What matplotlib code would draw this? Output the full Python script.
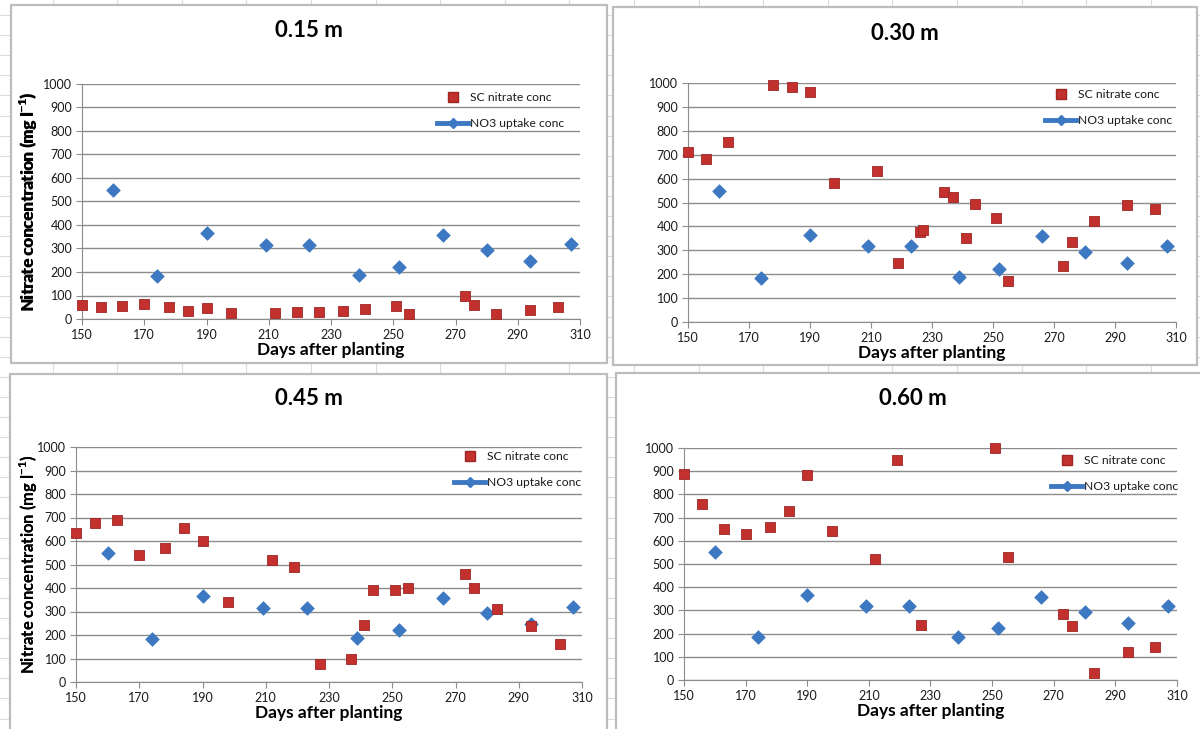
import matplotlib
matplotlib.use("Agg")
import matplotlib.pyplot as plt
from matplotlib.lines import Line2D
from matplotlib.patches import Rectangle

plt.rcParams["font.family"] = ["Lato", "DejaVu Sans"]
plt.rcParams["mathtext.fontset"] = "custom"
plt.rcParams["mathtext.rm"] = "Lato"
plt.rcParams["mathtext.bf"] = "Lato:bold"

# NO3 uptake concentration (same series on every depth)
uptake_days = [160, 174, 190, 209, 223, 239, 252, 266, 280, 294, 307]
uptake_conc = [550, 184, 365, 317, 317, 187, 223, 358, 292, 246, 318]

# soil-core nitrate concentration at each depth
sc_days_015 = [150, 156, 163, 170, 178, 184, 190, 198, 212, 219, 226, 234, 241,
               251, 255, 273, 276, 283, 294, 303]
sc_conc_015 = [60, 52, 55, 64, 51, 34, 47, 26, 26, 30, 30, 34, 43,
               55, 21, 98, 60, 21, 38, 51]

sc_days_030 = [150, 156, 163, 178, 184, 190, 198, 212, 219, 226, 227, 234, 237,
               241, 244, 251, 255, 273, 276, 283, 294, 303]
sc_conc_030 = [711, 682, 752, 993, 985, 964, 580, 630, 248, 375, 385, 544, 522,
               353, 492, 434, 173, 236, 333, 423, 490, 471]

sc_days_045 = [150, 156, 163, 170, 178, 184, 190, 198, 212, 219, 227, 237, 241,
               244, 251, 255, 273, 276, 283, 294, 303]
sc_conc_045 = [633, 678, 690, 542, 572, 655, 601, 340, 521, 491, 77, 98, 243,
               391, 391, 400, 460, 400, 309, 238, 162]

sc_days_060 = [150, 156, 163, 170, 178, 184, 190, 198, 212, 219, 227, 251, 255,
               273, 276, 283, 294, 303]
sc_conc_060 = [890, 759, 653, 631, 660, 729, 882, 643, 521, 950, 237, 1000, 531,
               284, 232, 29, 119, 141]

depth_titles = ["0.15 m", "0.30 m", "0.45 m", "0.60 m"]
sc_days = [sc_days_015, sc_days_030, sc_days_045, sc_days_060]
sc_conc = [sc_conc_015, sc_conc_030, sc_conc_045, sc_conc_060]

W, H = 1200, 729
RED = "#C3312E"
RED_EDGE = "#9E2624"
BLUE = "#3D78C2"
GRID = "#8C8C8C"

# chart frames (left, top, right, bottom) and plot areas (x150, x310, y1000, y0) in pixels
frames = [(11, 5, 607, 363), (613, 7, 1197, 365), (10, 374, 607, 740), (616, 373, 1210, 740)]
plots = [(82, 580, 84, 319), (688, 1176, 83, 322), (76, 582, 447, 682), (684, 1177, 448, 680)]
title_y = [30, 33, 398, 398]
# legend anchor (left of handle, top of first row) in pixels
legend_xy = [(437, 92), (1045, 89), (454, 451), (1051, 455)]

fig = plt.figure(figsize=(W / 100, H / 100), dpi=100)

# worksheet background with cell grid
bg = fig.add_axes([0, 0, 1, 1])
bg.set_xlim(0, W)
bg.set_ylim(H, 0)
bg.axis("off")
x = 52.5
while x < W:
    bg.axvline(x, color="#D9DBDD", lw=0.8, zorder=0)
    x += 64.6
y = 15
while y < H:
    bg.axhline(y, color="#D9DBDD", lw=0.8, zorder=0)
    y += 20.1

for (l, t, r, b) in frames:
    bg.add_patch(Rectangle((l, t), r - l, b - t, facecolor="white",
                           edgecolor="#BDBDBD", lw=1.6, zorder=1))

for i in range(4):
    fl, ft, fr, fb = frames[i]
    x0, x1, y1, y0 = plots[i]
    pw, ph = x1 - x0, y0 - y1
    bg.text((fl + fr) / 2, title_y[i], depth_titles[i], ha="center", va="center",
            fontsize=16, fontweight="bold", color="black", zorder=3)

    ax = fig.add_axes([x0 / W, 1 - y0 / H, pw / W, ph / H])
    ax.set_xlim(150, 310)
    ax.set_ylim(0, 1000)
    ax.set_xticks(range(150, 311, 20))
    ax.set_yticks(range(0, 1001, 100))
    ax.grid(axis="y", color=GRID, lw=1)
    ax.set_axisbelow(True)
    for side in ("top", "right"):
        ax.spines[side].set_visible(False)
    for side in ("left", "bottom"):
        ax.spines[side].set_color(GRID)
    ax.tick_params(direction="out", length=4, color=GRID, labelsize=9,
                   labelcolor="#1A1A1A", pad=3)
    ax.patch.set_alpha(0)

    ax.scatter(uptake_days, uptake_conc, marker="D", s=48, color=BLUE,
               edgecolors=BLUE, linewidths=0.5, zorder=3, clip_on=False)
    ax.scatter(sc_days[i], sc_conc[i], marker="s", s=52, color=RED,
               edgecolors=RED_EDGE, linewidths=0.6, zorder=4, clip_on=False)

    ax.set_ylabel(r"Nitrate concentration (mg l$^{\mathbf{-1}}$)", fontsize=12,
                  fontweight="bold")
    ax.yaxis.set_label_coords(-(x0 - 40) / pw, 0.5)
    ax.set_xlabel("Days after planting", fontsize=12.5, fontweight="bold")
    ax.xaxis.set_label_coords(0.5, -23 / ph)

    handles = [
        Line2D([], [], marker="s", ls="none", markersize=7, color=RED,
               markeredgecolor=RED_EDGE),
        Line2D([], [], marker="D", ls="-", lw=3.5, markersize=5, color=BLUE),
    ]
    lx, ly = legend_xy[i]
    leg = ax.legend(handles, ["SC nitrate conc", "NO3 uptake conc"],
                    loc="upper left",
                    bbox_to_anchor=((lx - x0) / pw, (y0 - ly) / ph),
                    frameon=False, fontsize=8.7, handlelength=2.6,
                    handletextpad=0.1, labelspacing=1.25,
                    borderaxespad=0, borderpad=0)
    for txt in leg.get_texts():
        txt.set_color("#1A1A1A")

fig.savefig("out.png", dpi=100)
